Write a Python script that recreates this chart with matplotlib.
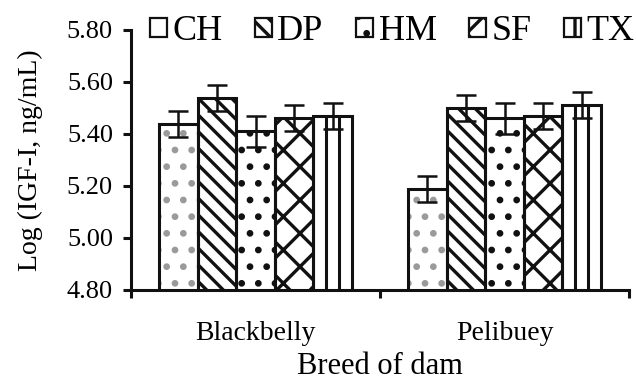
import numpy as np
import matplotlib
matplotlib.use("Agg")
import matplotlib.pyplot as plt
from matplotlib.patches import Patch

# Log IGF-I by breed of dam and breed of sire (means and SE)
breeds = ["Blackbelly", "Pelibuey"]
sires = ["CH", "DP", "HM", "SF", "TX"]
igf_blackbelly = [5.44, 5.54, 5.41, 5.46, 5.47]
igf_pelibuey = [5.19, 5.50, 5.46, 5.47, 5.51]
se_blackbelly = [0.05, 0.05, 0.06, 0.05, 0.05]
se_pelibuey = [0.05, 0.05, 0.06, 0.05, 0.05]

yticks = [4.80, 5.00, 5.20, 5.40, 5.60, 5.80]

# TX gets its stripes drawn by hand further down
hatches = [".", "\\\\", ".", "x", None]
hatch_colors = ["#9a9a9a", "#111111", "#111111", "#111111", "#111111"]
legend_hatches = [None, "\\\\", ".", "x", "|"]

plt.rcParams["font.family"] = "Liberation Serif"
plt.rcParams["hatch.linewidth"] = 2.4

INK = "#111111"
LW = 2.2

fig = plt.figure(figsize=(6.36, 3.85), dpi=100)
ax = fig.add_axes([131 / 636, 95 / 385, 498 / 636, 260 / 385])

x = np.arange(len(breeds))
width = 0.155
for i, sire in enumerate(sires):
    vals = [igf_blackbelly[i], igf_pelibuey[i]]
    errs = [se_blackbelly[i], se_pelibuey[i]]
    pos = x + (i - 2) * width
    # fill pattern first, then a solid outline on top
    ax.bar(pos, vals, width, color="white", edgecolor=hatch_colors[i],
           hatch=hatches[i], linewidth=0, zorder=2)
    if sire == "TX":
        for off in (-width / 6, width / 6):
            ax.vlines(pos + off, 4.80, vals, color=INK, linewidth=LW, zorder=3)
    ax.bar(pos, vals, width, fill=False, edgecolor=INK, linewidth=LW, zorder=3)
    ax.errorbar(pos, vals, yerr=errs, fmt="none", ecolor=INK,
                elinewidth=1.8, capsize=7, capthick=1.8, zorder=4)

ax.set_xlim(-0.5, 1.5)
ax.set_ylim(4.80, 5.80)
ax.set_yticks(yticks)
ax.set_yticklabels([f"{v:.2f}" for v in yticks])

ax.set_xticks([-0.5, 0.5, 1.5])
ax.set_xticklabels([])
ax.set_xticks(x, minor=True)
ax.set_xticklabels(breeds, minor=True)

for side in ("top", "right"):
    ax.spines[side].set_visible(False)
for side in ("left", "bottom"):
    ax.spines[side].set_linewidth(LW)
    ax.spines[side].set_color(INK)

ax.tick_params(axis="y", which="major", length=6, width=LW, color=INK,
               labelsize=19, pad=7)
ax.tick_params(axis="x", which="major", length=6, width=LW, color=INK)
ax.tick_params(axis="x", which="minor", length=0, labelsize=20, pad=22)

ax.set_ylabel("Log (IGF-I, ng/mL)", fontsize=20, labelpad=17)
ax.set_xlabel("Breed of dam", fontsize=22, labelpad=5)

handles = [Patch(facecolor="white", edgecolor=INK, linewidth=1.6,
                 hatch=h) for h in legend_hatches]
fig.legend(handles, sires, loc="upper left", bbox_to_anchor=(150 / 636, 0.96),
           ncol=5, frameon=False, fontsize=26, handlelength=0.47,
           handleheight=0.47, handletextpad=0.15, columnspacing=0.9,
           borderaxespad=0, borderpad=0)

fig.savefig("out.png", dpi=100, facecolor="white")
